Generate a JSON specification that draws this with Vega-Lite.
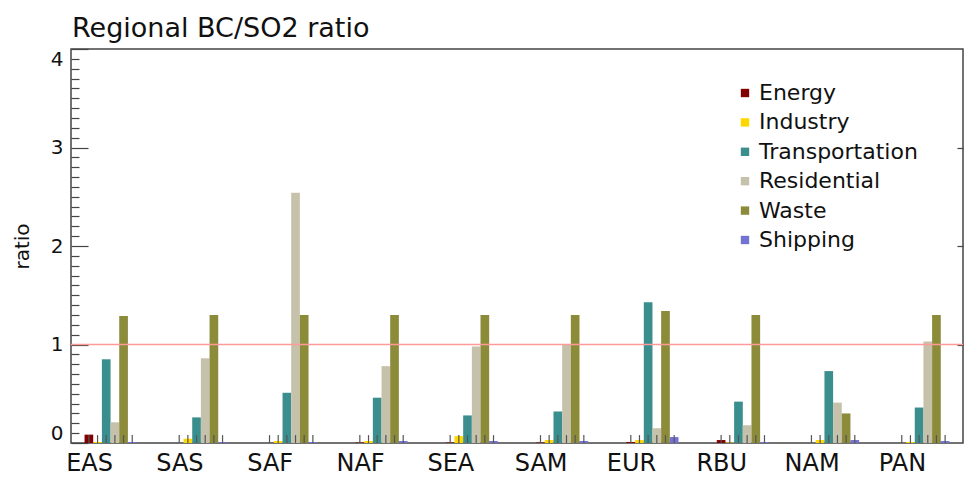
{
  "$schema": "https://vega.github.io/schema/vega-lite/v6.json",
  "width": 892,
  "height": 394,
  "autosize": "none",
  "padding": {"left": 71, "top": 49, "right": 1, "bottom": 34},
  "background": "white",
  "config": {"font": "DejaVu Sans", "view": {"stroke": "#444444", "strokeWidth": 1.5}},
  "title": {"text": "Regional BC/SO2 ratio", "anchor": "start", "frame": "group", "fontSize": 27, "fontWeight": "normal", "font": "DejaVu Sans", "color": "#111111", "baseline": "alphabetic", "offset": 13, "dx": 1, "dy": 29},
  "data": {"values": [
    {"region": "EAS", "sector": "Energy", "value": 0.085},
    {"region": "EAS", "sector": "Industry", "value": 0.01},
    {"region": "EAS", "sector": "Transportation", "value": 0.85},
    {"region": "EAS", "sector": "Residential", "value": 0.21},
    {"region": "EAS", "sector": "Waste", "value": 1.29},
    {"region": "EAS", "sector": "Shipping", "value": 0.01},
    {"region": "SAS", "sector": "Energy", "value": 0},
    {"region": "SAS", "sector": "Industry", "value": 0.044},
    {"region": "SAS", "sector": "Transportation", "value": 0.26},
    {"region": "SAS", "sector": "Residential", "value": 0.86},
    {"region": "SAS", "sector": "Waste", "value": 1.30},
    {"region": "SAS", "sector": "Shipping", "value": 0.01},
    {"region": "SAF", "sector": "Energy", "value": 0},
    {"region": "SAF", "sector": "Industry", "value": 0.02},
    {"region": "SAF", "sector": "Transportation", "value": 0.51},
    {"region": "SAF", "sector": "Residential", "value": 2.54},
    {"region": "SAF", "sector": "Waste", "value": 1.30},
    {"region": "SAF", "sector": "Shipping", "value": 0.01},
    {"region": "NAF", "sector": "Energy", "value": 0.005},
    {"region": "NAF", "sector": "Industry", "value": 0.02},
    {"region": "NAF", "sector": "Transportation", "value": 0.46},
    {"region": "NAF", "sector": "Residential", "value": 0.78},
    {"region": "NAF", "sector": "Waste", "value": 1.30},
    {"region": "NAF", "sector": "Shipping", "value": 0.02},
    {"region": "SEA", "sector": "Energy", "value": 0.005},
    {"region": "SEA", "sector": "Industry", "value": 0.07},
    {"region": "SEA", "sector": "Transportation", "value": 0.28},
    {"region": "SEA", "sector": "Residential", "value": 0.98},
    {"region": "SEA", "sector": "Waste", "value": 1.30},
    {"region": "SEA", "sector": "Shipping", "value": 0.02},
    {"region": "SAM", "sector": "Energy", "value": 0.005},
    {"region": "SAM", "sector": "Industry", "value": 0.03},
    {"region": "SAM", "sector": "Transportation", "value": 0.32},
    {"region": "SAM", "sector": "Residential", "value": 1.00},
    {"region": "SAM", "sector": "Waste", "value": 1.30},
    {"region": "SAM", "sector": "Shipping", "value": 0.02},
    {"region": "EUR", "sector": "Energy", "value": 0.01},
    {"region": "EUR", "sector": "Industry", "value": 0.03},
    {"region": "EUR", "sector": "Transportation", "value": 1.43},
    {"region": "EUR", "sector": "Residential", "value": 0.15},
    {"region": "EUR", "sector": "Waste", "value": 1.34},
    {"region": "EUR", "sector": "Shipping", "value": 0.06},
    {"region": "RBU", "sector": "Energy", "value": 0.03},
    {"region": "RBU", "sector": "Industry", "value": 0.005},
    {"region": "RBU", "sector": "Transportation", "value": 0.42},
    {"region": "RBU", "sector": "Residential", "value": 0.18},
    {"region": "RBU", "sector": "Waste", "value": 1.30},
    {"region": "RBU", "sector": "Shipping", "value": 0.01},
    {"region": "NAM", "sector": "Energy", "value": 0},
    {"region": "NAM", "sector": "Industry", "value": 0.03},
    {"region": "NAM", "sector": "Transportation", "value": 0.73},
    {"region": "NAM", "sector": "Residential", "value": 0.41},
    {"region": "NAM", "sector": "Waste", "value": 0.30},
    {"region": "NAM", "sector": "Shipping", "value": 0.03},
    {"region": "PAN", "sector": "Energy", "value": 0},
    {"region": "PAN", "sector": "Industry", "value": 0.01},
    {"region": "PAN", "sector": "Transportation", "value": 0.36},
    {"region": "PAN", "sector": "Residential", "value": 1.03},
    {"region": "PAN", "sector": "Waste", "value": 1.30},
    {"region": "PAN", "sector": "Shipping", "value": 0.02}
  ]},
  "layer": [
    {
      "mark": {"type": "bar"},
      "encoding": {
        "x": {"field": "region", "type": "nominal", "sort": ["EAS","SAS","SAF","NAF","SEA","SAM","EUR","RBU","NAM","PAN"], "scale": {"paddingInner": 0.424, "paddingOuter": 0.15}, "axis": {"title": null, "labelAngle": 0, "ticks": false, "domain": false, "labelFontSize": 24, "labelColor": "#111111", "labelPadding": 8, "labelOffset": -21}},
        "xOffset": {"field": "sector", "type": "nominal", "sort": ["Energy","Industry","Transportation","Residential","Waste","Shipping"], "scale": {"paddingInner": 0, "paddingOuter": 0}},
        "y": {"field": "value", "type": "quantitative", "scale": {"domain": [0, 4], "nice": false}, "axis": {"orient": "left", "values": [0, 1, 2, 3, 4], "ticks": false, "domain": false, "grid": false, "labelFlush": true, "labelFontSize": 20, "labelColor": "#111111", "labelPadding": 8, "title": "ratio", "titleFontSize": 20, "titleFontWeight": "normal", "titleColor": "#111111", "titlePadding": 18}},
        "color": {"field": "sector", "type": "nominal", "sort": ["Energy","Industry","Transportation","Residential","Waste","Shipping"], "scale": {"domain": ["Energy","Industry","Transportation","Residential","Waste","Shipping"], "range": ["#800000","#FFD700","#3A8E8E","#C6C1AA","#8B8B3A","#7272D2"]}, "legend": {"title": null, "orient": "none", "legendX": 663, "legendY": 33, "symbolType": "square", "symbolSize": 70, "symbolStrokeWidth": 0, "labelFontSize": 22, "labelFont": "DejaVu Sans", "labelColor": "#111111", "rowPadding": 7.4, "labelOffset": 3, "padding": 0}}
      }
    },
    {
      "mark": {"type": "rule", "color": "#555555", "strokeWidth": 1.2},
      "encoding": {
        "x": {"field": "region", "type": "nominal", "sort": ["EAS","SAS","SAF","NAF","SEA","SAM","EUR","RBU","NAM","PAN"], "scale": {"paddingInner": 0.424, "paddingOuter": 0.15}, "axis": {"title": null, "labelAngle": 0, "ticks": false, "domain": false, "labelFontSize": 24, "labelColor": "#111111", "labelPadding": 8, "labelOffset": -21}},
        "xOffset": {"field": "sector", "type": "nominal", "sort": ["Energy","Industry","Transportation","Residential","Waste","Shipping"], "scale": {"paddingInner": 0, "paddingOuter": 0}},
        "y": {"datum": 0, "type": "quantitative", "axis": {"orient": "left", "values": [0,0.1,0.2,0.3,0.4,0.5,0.6,0.7,0.8,0.9,1,1.1,1.2,1.3,1.4,1.5,1.6,1.7,1.8,1.9,2,2.1,2.2,2.3,2.4,2.5,2.6,2.7,2.8,2.9,3,3.1,3.2,3.3,3.4,3.5,3.6,3.7,3.8,3.9,4], "labels": false, "domain": false, "grid": false, "title": null, "tickColor": "#444444", "tickWidth": 1.2, "tickSize": {"condition": {"test": "datum.value % 1 === 0", "value": -17}, "value": -8}}},
        "y2": {"datum": 0.08}
      }
    },
    {
      "data": {"values": [{"ratio": 1}]},
      "mark": {"type": "rule", "color": "#FF9A9A", "strokeWidth": 1.5},
      "encoding": {
        "y": {"field": "ratio", "type": "quantitative", "axis": {"orient": "right", "values": [1, 2, 3], "labels": false, "domain": false, "grid": false, "title": null, "tickColor": "#444444", "tickWidth": 1.2, "tickSize": -6}}
      }
    }
  ],
  "resolve": {"axis": {"y": "independent"}}
}
